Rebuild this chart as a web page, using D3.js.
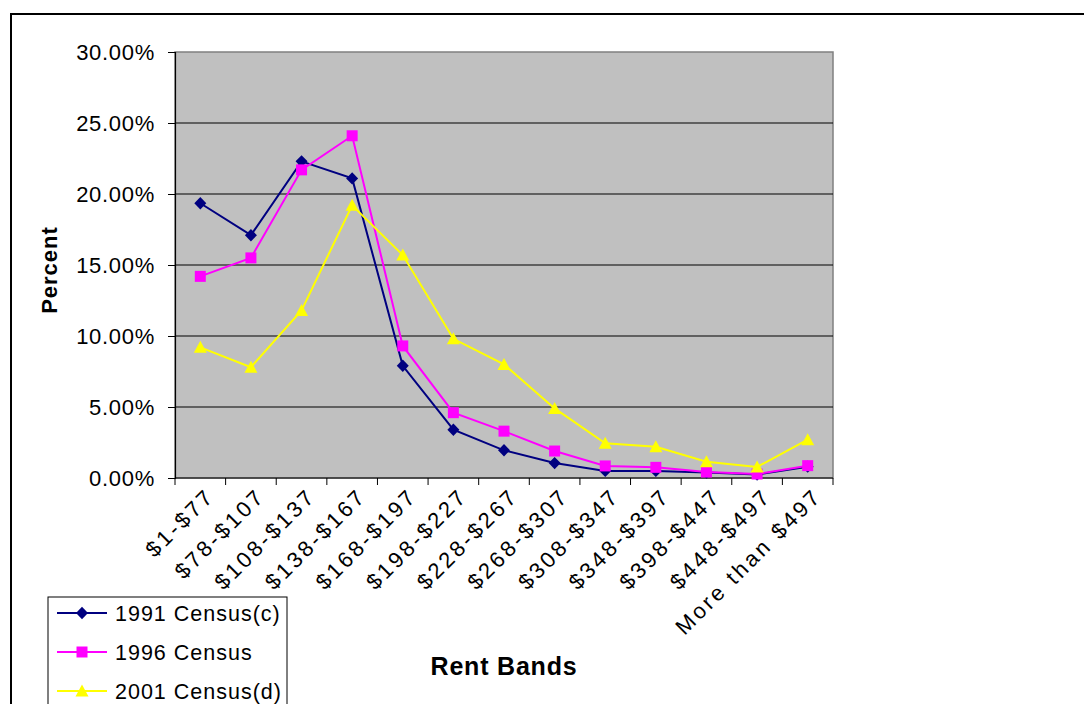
<!DOCTYPE html>
<html>
<head>
<meta charset="utf-8">
<script src="https://cdn.jsdelivr.net/npm/d3@7"></script>
<style>
  html, body { margin: 0; padding: 0; background: #fff; }
  svg { display: block; font-family: "Liberation Sans", Arial, sans-serif; }
</style>
</head>
<body>
<svg id="chart" width="1084" height="704"></svg>
<script>
// Rent bands and share of households (%) in each census
const categories = ["$1-$77", "$78-$107", "$108-$137", "$138-$167", "$168-$197", "$198-$227",
  "$228-$267", "$268-$307", "$308-$347", "$348-$397", "$398-$447", "$448-$497", "More than $497"];
const census1991 = [19.35, 17.1, 22.3, 21.1, 7.9, 3.4, 1.95, 1.05, 0.5, 0.5, 0.38, 0.25, 0.8];
const census1996 = [14.2, 15.5, 21.7, 24.1, 9.3, 4.6, 3.3, 1.9, 0.85, 0.75, 0.42, 0.28, 0.87];
const census2001 = [9.2, 7.8, 11.8, 19.2, 15.7, 9.8, 8.0, 4.9, 2.45, 2.2, 1.15, 0.78, 2.7];
const yTicks = [0, 5, 10, 15, 20, 25, 30];
const seriesNames = ["1991 Census(c)", "1996 Census", "2001 Census(d)"];

// Marker shapes (centred on the data point)
const diamondPath = "M0,-6.2L6,0L0,6.2L-6,0Z";
const squarePath = "M-5.5,-5.5H5.5V5.5H-5.5Z";
const trianglePath = "M0,-6.5L6.5,5.5L-6.5,5.5Z";

const series = [
  { name: seriesNames[0], values: census1991, color: "#000080", marker: diamondPath },
  { name: seriesNames[1], values: census1996, color: "#FF00FF", marker: squarePath },
  { name: seriesNames[2], values: census2001, color: "#FFFF00", marker: trianglePath }
];

const svg = d3.select("#chart");
const plot = { left: 175, top: 52, right: 833, bottom: 478 };

// Outer chart frame (continues past the right and bottom edges)
svg.append("rect")
  .attr("x", 11).attr("y", 14)
  .attr("width", 1200).attr("height", 800)
  .attr("fill", "none").attr("stroke", "#000").attr("stroke-width", 2);

const x = d3.scaleBand().domain(categories).range([plot.left, plot.right]);
const y = d3.scaleLinear().domain([0, 30]).range([plot.bottom, plot.top]);

// Plot area background
svg.append("rect")
  .attr("x", plot.left).attr("y", plot.top)
  .attr("width", plot.right - plot.left).attr("height", plot.bottom - plot.top)
  .attr("fill", "#C0C0C0").attr("stroke", "#808080").attr("stroke-width", 1.5);

// Horizontal gridlines
svg.append("g").selectAll("line")
  .data(yTicks.filter(t => t > 0 && t < 30))
  .join("line")
  .attr("x1", plot.left).attr("x2", plot.right)
  .attr("y1", d => y(d)).attr("y2", d => y(d))
  .attr("stroke", "#000").attr("stroke-width", 1);

// Y axis
const yAxis = svg.append("g")
  .attr("transform", `translate(${plot.left},0)`)
  .call(d3.axisLeft(y).tickValues(yTicks).tickSize(7).tickPadding(13)
    .tickFormat(d => d.toFixed(2) + "%"));
yAxis.select(".domain").attr("stroke", "#000").attr("stroke-width", 1.2);
yAxis.selectAll(".tick line").attr("stroke", "#000");
yAxis.selectAll(".tick text")
  .attr("font-size", 22).attr("fill", "#000")
  .attr("letter-spacing", "0.7px")
  .attr("font-family", "'Liberation Sans', Arial, sans-serif");

// X axis: ticks at category boundaries
const xAxisG = svg.append("g").attr("transform", `translate(0,${plot.bottom})`);
xAxisG.append("line")
  .attr("x1", plot.left).attr("x2", plot.right)
  .attr("stroke", "#000").attr("stroke-width", 1.2);
const boundaries = categories.map(c => x(c)).concat([x(categories[categories.length - 1]) + x.bandwidth()]);
xAxisG.selectAll("line.tk").data(boundaries).join("line")
  .attr("class", "tk")
  .attr("x1", d => d).attr("x2", d => d)
  .attr("y1", 0).attr("y2", 7)
  .attr("stroke", "#000");
xAxisG.selectAll("text").data(categories).join("text")
  .attr("transform", d => `translate(${x(d) + x.bandwidth() / 2 + 10},14) rotate(-45)`)
  .attr("text-anchor", "end")
  .attr("dy", "0.35em")
  .attr("font-size", 22)
  .attr("letter-spacing", "3px")
  .attr("fill", "#000")
  .text(d => d);

// Axis titles
svg.append("text")
  .attr("transform", "translate(57,270) rotate(-90)")
  .attr("text-anchor", "middle")
  .attr("font-size", 22).attr("font-weight", "bold")
  .attr("letter-spacing", "1px")
  .text("Percent");
svg.append("text")
  .attr("x", (plot.left + plot.right) / 2).attr("y", 675)
  .attr("text-anchor", "middle")
  .attr("font-size", 25).attr("font-weight", "bold")
  .attr("letter-spacing", "0.8px")
  .text("Rent Bands");

// Series lines and markers
const line = d3.line()
  .x((d, i) => x(categories[i]) + x.bandwidth() / 2)
  .y(d => y(d));

series.forEach(s => {
  const g = svg.append("g");
  g.append("path")
    .attr("d", line(s.values))
    .attr("fill", "none").attr("stroke", s.color).attr("stroke-width", 2);
  g.selectAll("path.m").data(s.values).join("path")
    .attr("class", "m")
    .attr("transform", (d, i) => `translate(${x(categories[i]) + x.bandwidth() / 2},${y(d)})`)
    .attr("d", s.marker)
    .attr("fill", s.color);
});

// Legend
const legend = svg.append("g");
legend.append("rect")
  .attr("x", 48).attr("y", 597).attr("width", 239).attr("height", 200)
  .attr("fill", "#fff").attr("stroke", "#000").attr("stroke-width", 1);
series.forEach((s, i) => {
  const cy = 613 + i * 39;
  legend.append("line")
    .attr("x1", 57).attr("x2", 107).attr("y1", cy).attr("y2", cy)
    .attr("stroke", s.color).attr("stroke-width", 2);
  legend.append("path")
    .attr("transform", `translate(82,${cy})`)
    .attr("d", s.marker)
    .attr("fill", s.color);
  legend.append("text")
    .attr("x", 115).attr("y", cy).attr("dy", "0.35em")
    .attr("font-size", 21.5).attr("fill", "#000")
    .attr("letter-spacing", "1px")
    .text(s.name);
});
</script>
</body>
</html>
